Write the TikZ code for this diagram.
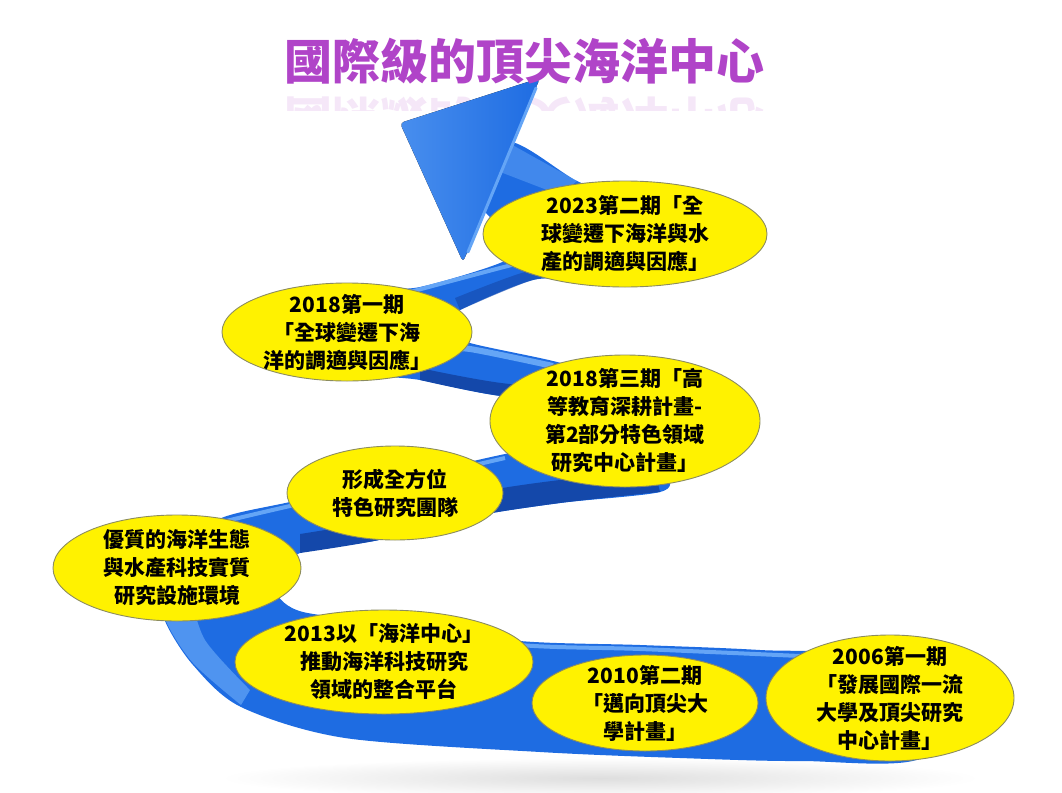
\documentclass[tikz,border=0pt]{standalone}
\usepackage{fontspec}
\usepackage{tikz}
\usetikzlibrary{shapes.geometric}
\newfontfamily\cjk{Noto Sans CJK TC}
\definecolor{ribbon}{RGB}{30,108,226}
\definecolor{ribbonlight}{RGB}{100,165,246}
\definecolor{ribbondark}{RGB}{20,72,170}
\definecolor{titlepurple}{RGB}{176,68,200}
\definecolor{rim}{RGB}{140,140,95}
\tikzset{
  phase/.style={ellipse, draw=rim, line width=0.9pt, fill=yellow, inner sep=0pt},
  phasetext/.style={align=center, inner sep=0pt, font=\cjk\bfseries\fontsize{21}{28}\selectfont},
  heading/.style={text=titlepurple, inner sep=0pt, font=\cjk\bfseries\fontsize{48}{56}\selectfont}
}

\begin{document}
\begin{tikzpicture}[x=1pt, y=-1pt]
  \useasboundingbox (0,0) rectangle (1062,792);
  \shade[inner color=black!13, outer color=white] (600,778) ellipse (380 and 20);

  \begin{scope}
    \clip (250,88) rectangle (800,110);
    \node[heading, opacity=0.13, yscale=-1, transform shape] (echo) at (524,120) {國際級的頂尖海洋中心};
  \end{scope}

  \fill[ribbon] plot[smooth cycle, tension=0.5] coordinates {
    (925,756) (800,761) (680,758) (540,752) (345,738) (241,707) (193,665) (165,621)
    (160,585) (178,543) (224,517) (290,502) (400,478) (510,453) (585,442) (650,450)
    (668,475) (660,492) (560,503) (470,517) (379,540) (300,553) (280,575) (276,593)
    (303,612) (400,624) (520,641) (640,645) (760,650) (925,662)};
  \fill[ribbondark] plot[smooth, tension=0.5] coordinates {(300,553) (379,540) (470,517) (560,503) (660,492)}
    -- plot[smooth, tension=0.5] coordinates {(655,472) (560,480) (470,494) (379,520) (300,534)} -- cycle;
  \fill[ribbonlight, opacity=0.7] plot[smooth, tension=0.5] coordinates {(241,705) (193,663) (166,621) (163,590)}
    -- plot[smooth, tension=0.5] coordinates {(190,592) (205,640) (250,690)} -- cycle;
  \draw[ribbonlight, line width=4pt] plot[smooth, tension=0.5] coordinates {(226,521) (290,506) (400,482) (505,458)};
  \draw[ribbonlight, line width=4pt] plot[smooth, tension=0.5] coordinates {(400,628) (520,645) (640,649) (800,656)};

  \fill[ribbon] plot[smooth cycle, tension=0.5] coordinates {
    (620,395) (510,397) (420,380) (365,372) (330,335) (360,293) (420,287) (500,263)
    (525,243) (483,207) (507,142) (577,181) (635,205) (645,250) (590,278) (533,280)
    (460,310) (435,328) (470,343) (553,361) (620,380)};
  \fill[ribbondark] plot[smooth, tension=0.5] coordinates {(620,397) (510,397) (420,380)}
    -- plot[smooth, tension=0.5] coordinates {(420,368) (510,384) (620,386)} -- cycle;
  \draw[ribbonlight, line width=6pt] plot[smooth, tension=0.5] coordinates {(445,350) (470,349) (553,366)};
  \draw[ribbonlight, line width=4pt] plot[smooth, tension=0.5] coordinates {(410,292) (500,268) (540,258)};
  \fill[ribbondark, opacity=0.6] plot[smooth, tension=0.5] coordinates {(460,310) (533,280) (580,276)}
    -- plot[smooth, tension=0.5] coordinates {(575,266) (525,272) (455,298)} -- cycle;
  \fill[ribbonlight, opacity=0.5] (507,142) -- (577,181) -- (560,195) -- (495,170) -- cycle;

  \fill[left color=ribbonlight!60!ribbon, right color=ribbon, rounded corners=4pt]
    (400,123) -- (540,78) -- (463,262) -- cycle;
  \draw[ribbonlight, line width=3pt, line cap=round] (536,88) -- (468,252);

  \node[phase, minimum width=248pt, minimum height=126pt] (e2006) at (890,698) {};
  \node[phasetext] (t2006) at (e2006) {2006第一期\\「發展國際一流\\大學及頂尖研究\\中心計畫」};
  \node[phase, minimum width=226pt, minimum height=96pt] (e2010) at (645,703) {};
  \node[phasetext] (t2010) at (e2010) {2010第二期\\「邁向頂尖大\\學計畫」};
  \node[phase, minimum width=298pt, minimum height=104pt] (e2013) at (384,662) {};
  \node[phasetext] (t2013) at (e2013) {2013以「海洋中心」\\推動海洋科技研究\\領域的整合平台};
  \node[phase, minimum width=248pt, minimum height=106pt] (elab) at (177,568) {};
  \node[phasetext] (tlab) at (elab) {優質的海洋生態\\與水產科技實質\\研究設施環境};
  \node[phase, minimum width=216pt, minimum height=94pt] (eteam) at (395,493) {};
  \node[phasetext] (tteam) at (eteam) {形成全方位\\特色研究團隊};
  \node[phase, minimum width=270pt, minimum height=132pt] (e2018c) at (625,421) {};
  \node[phasetext] (t2018c) at (e2018c) {2018第三期「高\\等教育深耕計畫-\\第2部分特色領域\\研究中心計畫」};
  \node[phase, minimum width=250pt, minimum height=98pt] (e2018a) at (347,332) {};
  \node[phasetext] (t2018a) at (e2018a) {2018第一期\\「全球變遷下海\\洋的調適與因應」};
  \node[phase, minimum width=284pt, minimum height=106pt] (e2023) at (625,234) {};
  \node[phasetext] (t2023) at (e2023) {2023第二期「全\\球變遷下海洋與水\\產的調適與因應」};

  \node[heading] (title) at (524,61) {國際級的頂尖海洋中心};
\end{tikzpicture}
\end{document}
